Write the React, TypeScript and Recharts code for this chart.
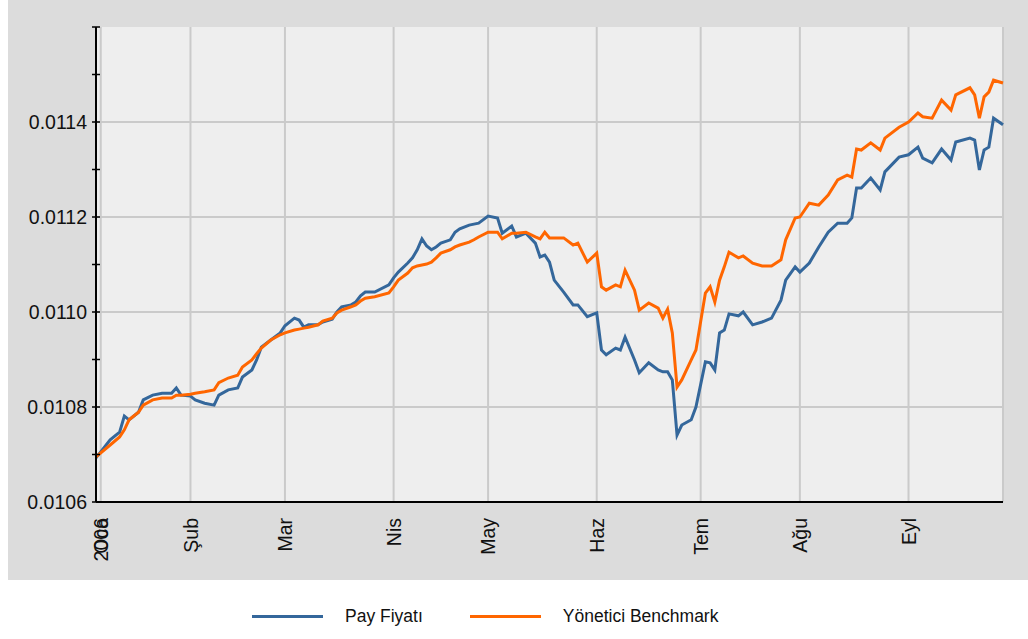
import React from "react";
import { LineChart, Line, XAxis, YAxis, CartesianGrid, Legend } from "recharts";

// trading-day index of each reading (0 = first day shown)
const days = [
  0, 3, 5, 6, 7, 9, 10, 12, 14, 16, 17, 18, 20, 21, 23, 25, 26, 28, 30, 31,
  33, 34, 35, 37, 39, 40, 42, 43, 44, 45, 47, 48, 50, 51, 52, 54, 55, 56, 57, 59,
  62, 63, 64, 66, 67, 68, 69, 70, 71, 72, 73, 75, 76, 77, 79, 80, 81, 83, 85, 86,
  88, 89, 91, 93, 94, 95, 96, 97, 99, 101, 102, 104, 106, 107, 108, 110, 111, 112, 114, 115,
  117, 119, 120, 121, 122, 123, 124, 126, 127, 129, 130, 131, 132, 133, 134, 136, 137, 139, 141, 143,
  145, 146, 148, 149, 151, 153, 155, 157, 159, 160, 161, 162, 164, 166, 167, 170, 172, 174, 175, 177,
  179, 181, 182, 185, 186, 187, 188, 189, 190, 192,
];

const payFiyati = [
  0.010693, 0.010731, 0.010747, 0.010781, 0.010773, 0.010789, 0.010815, 0.010825, 0.010829, 0.010829,
  0.01084, 0.010825, 0.010823, 0.010815, 0.010808, 0.010804, 0.010825, 0.010836, 0.01084, 0.010863,
  0.010878, 0.010899, 0.010926, 0.010941, 0.010956, 0.010971, 0.010987, 0.010983, 0.010968, 0.010973,
  0.010973, 0.010979, 0.010985, 0.011, 0.011011, 0.011015, 0.011021, 0.011034, 0.011042, 0.011042,
  0.011057, 0.011072, 0.011084, 0.011103, 0.011114, 0.011131, 0.011154, 0.011139, 0.011131, 0.011137,
  0.011145, 0.011152, 0.011168, 0.011175, 0.011183, 0.011185, 0.011187, 0.011202, 0.011198, 0.011166,
  0.011181, 0.011158, 0.011166, 0.011145, 0.011116, 0.01112, 0.011105, 0.011067, 0.011042, 0.011015,
  0.011015, 0.01099, 0.010998, 0.01092, 0.01091, 0.010924, 0.01092, 0.010947, 0.010899, 0.010872,
  0.010893, 0.010878, 0.010874, 0.010874, 0.010857, 0.010741, 0.010762, 0.010773, 0.0108, 0.010895,
  0.010893, 0.010878, 0.010956, 0.010962, 0.010996, 0.010992, 0.011, 0.010973, 0.010979, 0.010987,
  0.011025, 0.011067, 0.011095, 0.011084, 0.011103, 0.011137, 0.011168, 0.011187, 0.011187, 0.011198,
  0.011261, 0.011261, 0.011282, 0.011257, 0.011295, 0.011326, 0.011331, 0.011347, 0.011324, 0.011314,
  0.011343, 0.01132, 0.011358, 0.011366, 0.011362, 0.011299, 0.011341, 0.011347, 0.011408, 0.011394,
];

const benchmark = [
  0.010695, 0.01072, 0.010737, 0.010752, 0.010773, 0.010789, 0.010804, 0.010815, 0.010819, 0.010819,
  0.010825, 0.010825, 0.010827, 0.010829, 0.010832, 0.010836, 0.010851, 0.010861, 0.010867, 0.010884,
  0.010899, 0.010912, 0.010924, 0.010941, 0.010952, 0.010956, 0.010962, 0.010964, 0.010966, 0.010968,
  0.010973, 0.010981, 0.010987, 0.010998, 0.011004, 0.011011, 0.011015, 0.011023, 0.011029, 0.011032,
  0.01104, 0.011053, 0.011067, 0.011082, 0.011093, 0.011097, 0.011099, 0.011101, 0.011105, 0.011114,
  0.011124, 0.011131, 0.011137, 0.011141, 0.011147, 0.011152, 0.011158, 0.011168, 0.011168, 0.011154,
  0.011166, 0.011166, 0.011168, 0.011158, 0.011154, 0.011168, 0.011156, 0.011156, 0.011156, 0.011141,
  0.011145, 0.011105, 0.011124, 0.011053, 0.011046, 0.011057, 0.011053, 0.011088, 0.011046, 0.011004,
  0.011019, 0.011008, 0.010987, 0.011006, 0.010956, 0.010842, 0.010857, 0.010899, 0.01092, 0.01104,
  0.011053, 0.011021, 0.011067, 0.011095, 0.011126, 0.011114, 0.011118, 0.011103, 0.011097, 0.011097,
  0.01111, 0.011152, 0.011198, 0.0112, 0.011229, 0.011225, 0.011246, 0.011278, 0.011288, 0.011284,
  0.011343, 0.011341, 0.011356, 0.011341, 0.011366, 0.011389, 0.0114, 0.011419, 0.011411, 0.011408,
  0.011446, 0.011425, 0.011457, 0.011472, 0.011457, 0.011408, 0.011453, 0.011463, 0.011488, 0.011482,
];

const monthTicks = [1, 20, 40, 63, 83, 106, 128, 149, 172];
const monthLabels = ["Oca", "Şub", "Mar", "Nis", "May", "Haz", "Tem", "Ağu", "Eyl"];
const yearLabel = "2006";

const yTicks = [0.0106, 0.0107, 0.0108, 0.0109, 0.011, 0.0111, 0.0112, 0.0113, 0.0114, 0.0115, 0.0116];
const yLabels = ["0.0106", "", "0.0108", "", "0.0110", "", "0.0112", "", "0.0114", "", ""];
const gridValues = [0.0106, 0.0108, 0.011, 0.0112, 0.0114];

const data = days.map((d, i) => ({ day: d, pay: payFiyati[i], bench: benchmark[i] }));

const FONT = "'Liberation Sans', Arial, sans-serif";

const YTick = (props: any) => {
  const { x, y, index } = props;
  const label = yLabels[index];
  return (
    <g>
      <line x1={x - 4} x2={x + 4} y1={y} y2={y} stroke="#000" strokeWidth={1.5} />
      {label ? (
        <text x={x - 9} y={y} dy="0.36em" textAnchor="end" fontSize={19.5} fontFamily={FONT} fill="#111">
          {label}
        </text>
      ) : null}
    </g>
  );
};

const XTick = (props: any) => {
  const { x, y, index } = props;
  const labels = index === 0 ? [monthLabels[0], yearLabel] : [monthLabels[index]];
  return (
    <g>
      {labels.map((t) => (
        <text
          key={t}
          transform={`translate(${x},${y + 16}) rotate(-90)`}
          dy="0.36em"
          textAnchor="end"
          fontSize={19.5}
          fontFamily={FONT}
          fill="#111"
        >
          {t}
        </text>
      ))}
    </g>
  );
};

const renderLegend = (props: any) => (
  <div style={{ display: "flex", alignItems: "center", paddingLeft: 244, fontFamily: FONT, fontSize: 17.5, color: "#111" }}>
    {props.payload.map((entry: any, i: number) => (
      <div key={entry.value} style={{ display: "flex", alignItems: "center", marginRight: i === 0 ? 47 : 0 }}>
        <span style={{ display: "inline-block", width: 71, height: 3, background: entry.color }} />
        <span style={{ marginLeft: 22 }}>{entry.value}</span>
      </div>
    ))}
  </div>
);

export default function App() {
  return (
    <div
      style={{
        position: "absolute",
        left: 8,
        top: 0,
        width: 1020,
        height: 631,
        background: "linear-gradient(#dcdcdc 0, #dcdcdc 580px, #ffffff 580px)",
        fontFamily: FONT,
      }}
    >
      <LineChart width={1020} height={631} data={data} margin={{ top: 27, right: 25, left: 0, bottom: 51 }}>
        <CartesianGrid fill="#eeeeee" stroke="#cacaca" strokeWidth={2} horizontalValues={gridValues} />
        <XAxis
          dataKey="day"
          type="number"
          domain={[0, 192]}
          ticks={monthTicks}
          interval={0}
          height={78}
          tickSize={0}
          tickMargin={0}
          tickLine={false}
          tick={<XTick />}
          axisLine={{ stroke: "#000", strokeWidth: 2 }}
        />
        <YAxis
          type="number"
          domain={[0.0106, 0.0116]}
          ticks={yTicks}
          interval={0}
          width={88}
          tickSize={0}
          tickMargin={0}
          tickLine={false}
          tick={<YTick />}
          axisLine={{ stroke: "#000", strokeWidth: 2 }}
        />
        <Line
          type="linear"
          dataKey="pay"
          name="Pay Fiyatı"
          stroke="#34679b"
          strokeWidth={3}
          dot={false}
          isAnimationActive={false}
        />
        <Line
          type="linear"
          dataKey="bench"
          name="Yönetici Benchmark"
          stroke="#ff6600"
          strokeWidth={3}
          dot={false}
          isAnimationActive={false}
        />
        <Legend
          layout="horizontal"
          verticalAlign="middle"
          align="center"
          content={renderLegend}
          wrapperStyle={{ top: 606, left: 0, width: 1020 }}
        />
      </LineChart>
    </div>
  );
}
